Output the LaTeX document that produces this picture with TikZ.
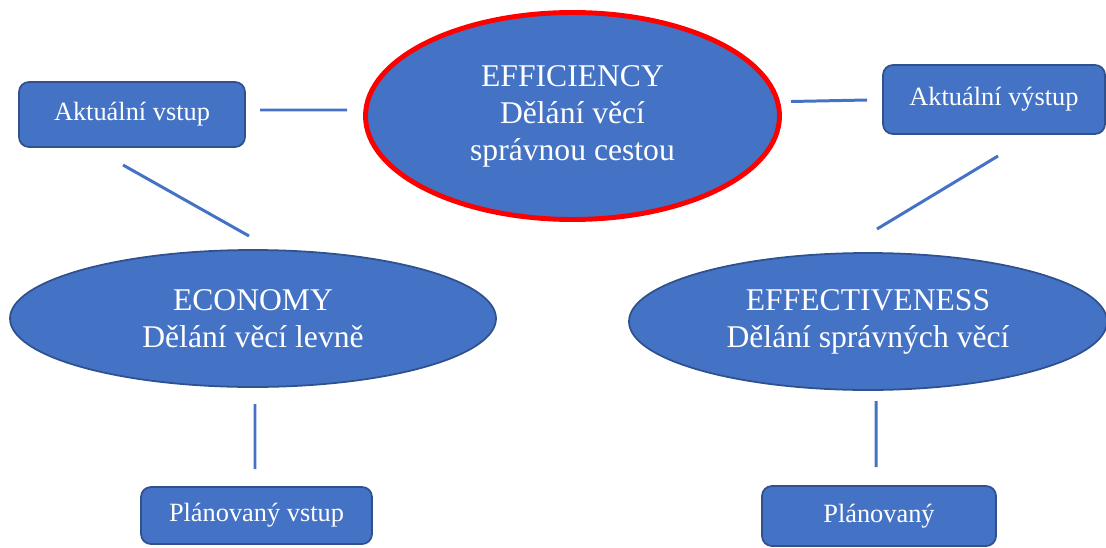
\documentclass[tikz,border=0pt]{standalone}
\usepackage{fontspec}
\setmainfont{Liberation Serif}
\usetikzlibrary{shapes.geometric}
\definecolor{boxblue}{HTML}{4472C4}
\definecolor{edgeblue}{HTML}{2F528F}

\begin{document}
\begin{tikzpicture}[
    box/.style={draw=edgeblue, fill=boxblue, line width=1pt, rounded corners=0.2cm, text=white, font=\fontsize{15}{18}\selectfont, inner sep=0pt, outer sep=0pt},
    oval/.style={ellipse, draw=edgeblue, fill=boxblue, line width=1pt, text=white, align=center, font=\fontsize{18}{21}\selectfont, inner sep=0pt, outer sep=0pt},
    link/.style={draw=boxblue, line width=1.7pt}]
    \useasboundingbox (0,0) rectangle (22.12,-10.94);
    \node[oval, draw=red, line width=2.8pt, minimum width=8.28cm, minimum height=4.14cm] (eff) at (11.45,-2.32) {EFFICIENCY\\Dělání věcí\\správnou cestou};
    \node[oval, minimum width=9.72cm, minimum height=2.74cm] (eco) at (5.06,-6.37) {ECONOMY\\Dělání věcí levně};
    \node[oval, minimum width=9.56cm, minimum height=2.74cm] (effv) at (17.36,-6.43) {EFFECTIVENESS\\Dělání správných věcí};
    \node[box, minimum width=4.52cm, minimum height=1.30cm] (vstup) at (2.64,-2.29) {Aktuální vstup};
    \node[box, minimum width=4.44cm, minimum height=1.38cm] (vystup) at (19.88,-1.99) {Aktuální výstup};
    \node[box, minimum width=4.62cm, minimum height=1.14cm] (planvstup) at (5.13,-10.31) {Plánovaný vstup};
    \node[box, minimum width=4.68cm, minimum height=1.2cm] (planvystup) at (17.58,-10.32) {Plánovaný};
    \draw[link] ([shift={(0.3,0.09)}]vstup.east) -- ([shift={(-0.37,0.12)}]eff.west);
    \draw[link] ([shift={(0.23,0.29)}]eff.east) -- ([shift={(-0.32,-0.01)}]vystup.west);
    \draw[link] ([shift={(-0.18,-0.36)}]vstup.south) -- ([shift={(-0.08,0.28)}]eco.north);
    \draw[link] ([shift={(0.08,-0.44)}]vystup.south) -- ([shift={(0.18,0.48)}]effv.north);
    \draw[link] ([shift={(0.04,-0.34)}]eco.south) -- ([shift={(-0.03,0.36)}]planvstup.north);
    \draw[link] ([shift={(0.16,-0.22)}]effv.south) -- ([shift={(-0.06,0.38)}]planvystup.north);
\end{tikzpicture}
\end{document}
